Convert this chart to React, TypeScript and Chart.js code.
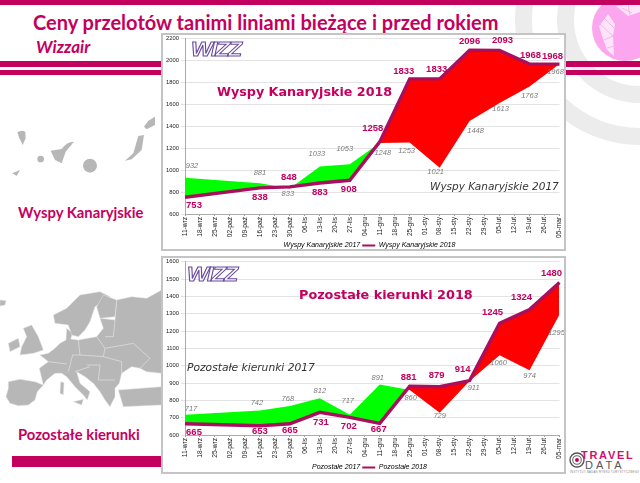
import React, { useEffect, useRef } from "react";
import { Chart, registerables } from "chart.js";

Chart.register(...registerables);

const categories = ["11-wrz","18-wrz","25-wrz","02-paź","09-paź","16-paź","23-paź","30-paź","06-lis","13-lis","20-lis","27-lis","04-gru","11-gru","18-gru","25-gru","01-sty","08-sty","15-sty","22-sty","29-sty","05-lut","12-lut","19-lut","26-lut","05-mar"];
const sampleDates = ["11-wrz","16-paź","30-paź","13-lis","27-lis","11-gru","25-gru","08-sty","22-sty","05-lut","19-lut","05-mar"];

const canary2018 = [753,838,848,883,908,1258,1833,1833,2096,2093,1968,1968];
const canary2017 = [932,881,833,1033,1053,1248,1253,1021,1448,1613,1763,1968];
const other2018 = [665,653,665,731,702,667,881,879,914,1245,1324,1480];
const other2017 = [717,742,768,812,717,891,860,729,911,1060,974,1295];

// label nudges in px [dx, dy]
const canary2018Nudge = [[9,8],[0,9],[-1,-9],[0,9],[-1,9],[-7,-14],[-6,-8],[-3,-10],[0,-9],[3,-10],[1,-9],[-7,-8]];
const canary2017Nudge = [[7,-12],[0,-10],[-2,5],[-3,-13],[-5,-15],[3,10],[-3,8],[-4,4],[6,10],[1,6],[0,9],[-4,8]];
const other2018Nudge = [[9,9],[0,6],[0,7],[1,10],[-1,9],[-1,6],[-1,-9],[-3,-11],[-7,-11],[-7,-11],[-8,-12],[-8,-9]];
const other2017Nudge = [[6,-6],[-3,-7],[-2,-7],[0,-7],[-2,-14],[-2,-7],[1,8],[0,3],[4,7],[-1,8],[0,6],[-3,18]];

const CRIMSON = "#c4005e";
const LINE = "#a8105f";
const FONT = "'Liberation Sans', Arial, sans-serif";

const toXY = (vals: number[]) => vals.map((y, i) => ({ x: sampleDates[i], y }));

type CaptionDef = { text: string; x: number; y: number; font: string; color: string };

const makeLabelPlugin = (nudges: number[][][], captions: CaptionDef[]) => ({
  id: "valueLabels",
  afterDatasetsDraw(chart: any) {
    const { ctx, scales } = chart;
    ctx.save();
    ctx.textAlign = "center";
    ctx.textBaseline = "middle";
    [1, 0].forEach((ds) => {
      const data = chart.data.datasets[ds].data;
      data.forEach((p: any, i: number) => {
        const [dx, dy] = nudges[ds][i];
        ctx.font = ds === 0 ? `bold 9.5px ${FONT}` : `italic 7.5px ${FONT}`;
        ctx.fillStyle = ds === 0 ? CRIMSON : "#7a7a7a";
        ctx.fillText(String(p.y), scales.x.getPixelForValue(categories.indexOf(p.x)) + dx, scales.y.getPixelForValue(p.y) + dy);
      });
    });
    ctx.textAlign = "left";
    captions.forEach((c) => {
      ctx.font = c.font;
      ctx.fillStyle = c.color;
      ctx.fillText(c.text, c.x, c.y);
    });
    ctx.restore();
  },
});

function MiniChart(props: {
  left: number; top: number; width: number; height: number;
  name17: string; name18: string; v17: number[]; v18: number[];
  n17: number[][]; n18: number[][];
  min: number; max: number; step: number; captions: CaptionDef[];
  axisHeight: number; bottomPad: number;
}) {
  const ref = useRef<HTMLCanvasElement | null>(null);
  useEffect(() => {
    const chart = new Chart(ref.current as HTMLCanvasElement, {
      type: "line",
      data: {
        labels: categories,
        datasets: [
          { label: props.name18, data: toXY(props.v18) as any, borderColor: LINE, backgroundColor: LINE, borderWidth: 3.4, pointRadius: 0, tension: 0, clip: false, fill: false },
          { label: props.name17, data: toXY(props.v17) as any, borderColor: "rgba(0,0,0,0)", borderWidth: 0, pointRadius: 0, tension: 0, fill: { target: 0, above: "#00ff00", below: "#ff0000" } },
        ],
      },
      options: {
        responsive: false,
        animation: false,
        devicePixelRatio: 1,
        layout: { padding: { top: 3.7, right: 4.5, left: 0, bottom: props.bottomPad } },
        plugins: {
          tooltip: { enabled: false },
          legend: {
            position: "bottom",
            labels: {
              boxWidth: 13, boxHeight: 2, padding: 2, color: "#333",
              font: { family: FONT, size: 7, style: "italic" },
              generateLabels: () => [
                { text: props.name17, fillStyle: "rgba(0,0,0,0)", strokeStyle: "rgba(0,0,0,0)", lineWidth: 0, datasetIndex: 1 },
                { text: props.name18, fillStyle: LINE, strokeStyle: LINE, lineWidth: 0, datasetIndex: 0 },
              ],
            },
          },
        },
        scales: {
          x: {
            type: "category",
            afterFit: (s: any) => { s.height = props.axisHeight; s.paddingLeft = 0; s.paddingRight = 0; },
            grid: { drawOnChartArea: false, tickLength: 2, color: "#999" },
            border: { color: "#aaa" },
            ticks: { autoSkip: false, minRotation: 90, maxRotation: 90, padding: 1, color: "#222", font: { family: FONT, size: 6.6 } },
          },
          y: {
            min: props.min, max: props.max,
            afterFit: (s: any) => { s.width = 22; s.paddingTop = 0; s.paddingBottom = 0; },
            grid: { color: "#e3e3e3", tickLength: 4, lineWidth: 1 },
            border: { color: "#aaa" },
            ticks: { stepSize: props.step, padding: 2, color: "#222", font: { family: FONT, size: 5.8 }, callback: (v: any) => String(v) },
          },
        },
      } as any,
      plugins: [makeLabelPlugin([props.n18, props.n17], props.captions)],
    });
    return () => chart.destroy();
  }, []);
  return (
    <div style={{ position: "absolute", left: props.left, top: props.top, width: props.width, height: props.height, background: "#fff", border: "2px solid #c4c4c4", boxSizing: "content-box" }}>
      <canvas ref={ref} width={props.width} height={props.height} style={{ display: "block" }} />
    </div>
  );
}

const abs = (left: number, top: number, extra: React.CSSProperties = {}): React.CSSProperties => ({ position: "absolute", left, top, whiteSpace: "nowrap", ...extra });
const bar = (left: number, top: number, width: number, height: number) => (
  <div style={{ position: "absolute", left, top, width, height, background: CRIMSON }} />
);
const logo = (left: number, top: number) => (
  <div style={abs(left, top, { font: `italic bold 20px ${FONT}`, color: "#fff", WebkitTextStroke: "1px #6a4aa0", letterSpacing: -1.5, transform: "scaleX(1.15)", transformOrigin: "left top", lineHeight: "20px" } as any)}>WIZZ</div>
);

export default function App() {
  return (
    <div style={{ position: "absolute", left: 0, top: 0, width: 640, height: 483, overflow: "hidden", background: "#fff", filter: "blur(0.4px)" }}>
      <svg width={640} height={483} style={{ position: "absolute", left: 0, top: 0 }}>
        <circle cx={640} cy={20} r={74.5} fill="none" stroke="#ececec" strokeWidth={17} />
        <circle cx={640} cy={20} r={116.5} fill="none" stroke="#ececec" strokeWidth={17} />
        <circle cx={625} cy={28} r={33} fill="#fba6ee" />
        <g fill="#fff" opacity={0.7}>
          <path d="M599 26 L608 14 L615 24 L613 36 L614 56 L607 50 L602 36 Z" />
          <path d="M616 6 L640 4 L640 12 L628 16 Z" />
        </g>
        <g fill="none" stroke="#fba6ee" strokeWidth={0.8}>
          <path d="M600 24 L613 36 M604 18 L614 28 M604 40 L613 36 M607 48 L614 46 M622 8 L632 13 M628 5 L630 15" />
        </g>
        <g transform="scale(0.3333)" fill="#b7b7b7">
          <path d="M52 397 Q65 388 76 396 L77 415 L68 435 L57 412 Z" />
          <circle cx={122} cy={477} r={10} />
          <path d="M152 452 L185 447 Q200 425 222 425 L197 455 L185 490 L165 480 Z" />
          <circle cx={270} cy={497} r={21} />
          <path d="M37 520 L60 510 L50 528 Z" />
          <path d="M375 482 L400 460 L415 408 L432 405 L425 450 L395 478 Z" />
          <path d="M432 380 L445 362 L465 350 L465 375 L440 388 Z" />
        </g>
        <g transform="translate(0 240) scale(0.3333)" fill="#b7b7b7" stroke="#e4e4e4" strokeWidth={1.5}>
          <path d="M25 425 L60 418 L105 425 L130 435 L112 455 L105 480 L85 495 L55 497 L30 490 L18 470 L25 445 Z" />
          <path d="M485 150 L485 400 L440 395 L420 385 L395 380 L365 400 L358 430 L345 445 L345 470 L330 500 L315 480 L300 455 L280 430 L255 410 L230 395 L240 430 L270 455 L262 480 L250 465 L225 440 L200 410 L185 400 L165 400 L140 420 L130 435 L125 415 L118 385 L145 365 L120 345 L145 340 L165 325 L180 310 L198 300 L200 265 L218 280 L212 297 L235 300 L290 290 L310 265 L300 235 L345 240 L350 180 L395 170 L440 175 Z" />
          <path d="M160 225 L200 205 L240 165 L300 155 L330 170 L300 190 L285 200 L270 245 L255 270 L235 290 L215 285 L205 255 L165 250 Z" />
          <path d="M310 165 L350 180 L345 230 L300 235 L290 200 Z" />
          <path d="M60 345 L100 340 L130 330 L115 290 L95 255 L70 265 L80 290 L65 320 Z" />
          <path d="M25 310 L55 295 L60 320 L30 335 Z" />
          <path d="M0 180 L18 182 L15 195 L0 198 Z" />
          <path d="M220 485 L250 478 L245 495 Z" />
          <path d="M182 425 L192 428 L190 465 L180 460 Z" />
          <path d="M355 450 L485 440 L485 495 L370 500 Z" />
          <path d="M235 300 L240 345 L218 345 L205 395 M290 290 L315 325 L310 350 L240 345 M310 350 L365 365 L365 400 M300 375 L295 420 L345 420 M315 325 L400 310 L450 355 L420 385 M260 375 L300 375 M225 395 L270 380 M345 240 L340 290 L315 290 M145 365 L200 372" fill="none" stroke="#e4e4e4" strokeWidth={2} />
        </g>
      </svg>

      {bar(0, 0, 640, 5)}
      {bar(0, 61, 640, 5.5)}
      {bar(0, 70, 640, 4.5)}
      {bar(12, 456, 155, 10.5)}

      <div style={abs(33, 9, { font: `bold 20px Lato, sans-serif`, color: CRIMSON, lineHeight: "26px" })}>Ceny przelotów tanimi liniami bieżące i przed rokiem</div>
      <div style={abs(36, 36, { font: `italic bold 17px Lato, sans-serif`, color: CRIMSON, lineHeight: "22px" })}>Wizzair</div>
      <div style={abs(18, 202, { font: `bold 14.8px Lato, sans-serif`, color: CRIMSON, lineHeight: "20px" })}>Wyspy Kanaryjskie</div>
      <div style={abs(18, 424, { font: `bold 14.8px Lato, sans-serif`, color: CRIMSON, lineHeight: "20px" })}>Pozostałe kierunki</div>

      <MiniChart left={161} top={33} width={401} height={214} axisHeight={26} bottomPad={-10}
        name17="Wyspy Kanaryjskie 2017" name18="Wyspy Kanaryjskie 2018"
        v17={canary2017} v18={canary2018} n17={canary2017Nudge} n18={canary2018Nudge}
        min={600} max={2200} step={200}
        captions={[
          { text: "Wyspy Kanaryjskie 2018", x: 54, y: 58, font: "bold 12.7px 'DejaVu Sans'", color: CRIMSON },
          { text: "Wyspy Kanaryjskie 2017", x: 267, y: 152, font: "italic 10.5px 'DejaVu Sans'", color: "#333" },
        ]} />
      <MiniChart left={161} top={256} width={401} height={214} axisHeight={27} bottomPad={-9}
        name17="Pozostałe 2017" name18="Pozostałe 2018"
        v17={other2017} v18={other2018} n17={other2017Nudge} n18={other2018Nudge}
        min={600} max={1600} step={100}
        captions={[
          { text: "Pozostałe kierunki 2018", x: 136, y: 38, font: "bold 12.8px 'DejaVu Sans'", color: CRIMSON },
          { text: "Pozostałe kierunki 2017", x: 24, y: 110, font: "italic 10.7px 'DejaVu Sans'", color: "#333" },
        ]} />

      {logo(191, 39)}
      {logo(187, 264)}

      <svg width={16} height={18} style={{ position: "absolute", left: 569, top: 451 }}>
        <circle cx={8} cy={9} r={7} fill="none" stroke="#555" strokeWidth={1.4} />
        <circle cx={8} cy={9} r={4.3} fill="none" stroke="#666" strokeWidth={1.1} />
        <circle cx={8} cy={9} r={2} fill={CRIMSON} />
      </svg>
      <div style={abs(581, 450, { font: `bold 11px ${FONT}`, color: "#d0106e", letterSpacing: 1.7, lineHeight: "11px" })}>TRAVEL</div>
      <div style={abs(585, 460, { font: `11px ${FONT}`, color: "#555", letterSpacing: 3, lineHeight: "11px" })}>DATA</div>
      <div style={abs(570, 471, { font: `2.6px ${FONT}`, color: "#777", lineHeight: "3px", letterSpacing: 0.4 })}>INSTYTUT BADAŃ RYNKU TURYSTYCZNEGO</div>
    </div>
  );
}
